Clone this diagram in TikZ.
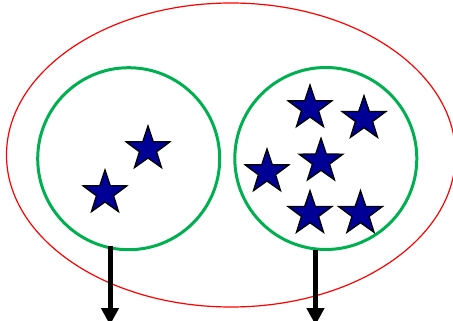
\documentclass[tikz,border=0pt]{standalone}
\usetikzlibrary{shapes.geometric,arrows.meta}
\definecolor{grp}{RGB}{0,176,80}
\definecolor{starblue}{RGB}{0,0,150}
\begin{document}
\begin{tikzpicture}[x=1pt,y=-1pt,
  outer/.style={draw=red,line width=1.2pt,ellipse,inner sep=0,minimum width=449pt,minimum height=304pt},
  group/.style={draw=grp,line width=3pt,circle,inner sep=0,minimum size=182pt},
  starnode/.style={star,star points=5,star point ratio=2.55,draw=black,line width=1.3pt,fill=starblue,inner sep=0,minimum size=46pt},
  outarrow/.style={line width=5pt,-{Triangle[width=17pt,length=17pt]}}]
\useasboundingbox (0,0) rectangle (453,321);
\node[outer] (all) at (231,155) {};
\node[group] (g1) at (128.7,158.7) {};
\node[group] (g2) at (325.8,158.5) {};
\node[starnode] (s1) at (148,149) {};
\node[starnode] (s2) at (105,193) {};
\node[starnode] (s3) at (310,108) {};
\node[starnode] (s4) at (364,118.7) {};
\node[starnode] (s5) at (267,172) {};
\node[starnode] (s6) at (321,161.3) {};
\node[starnode] (s7) at (310,213.7) {};
\node[starnode] (s8) at (360.5,213.7) {};
\coordinate (a1s) at (110,246);
\coordinate (a1e) at (110,325);
\coordinate (a2s) at (315.5,250);
\coordinate (a2e) at (315.5,325);
\draw[outarrow] (a1s) -- (a1e);
\draw[outarrow] (a2s) -- (a2e);
\end{tikzpicture}
\end{document}
